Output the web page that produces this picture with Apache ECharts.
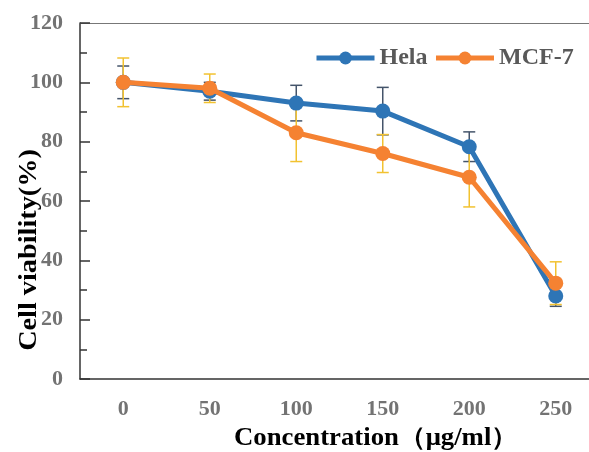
<!DOCTYPE html>
<html>
<head>
<meta charset="utf-8">
<script src="https://cdn.jsdelivr.net/npm/echarts@6/dist/echarts.min.js"></script>
<style>
html,body{margin:0;padding:0;background:#fff;}
#chart{width:589px;height:452px;}
</style>
</head>
<body>
<div id="chart"></div>
<script>
const categories = ['0', '50', '100', '150', '200', '250'];
const helaValues = [100, 97, 93, 90.3, 78.3, 28];
const helaErrors = [5.5, 3, 6, 8, 5, 3.5];
const mcfValues = [100, 98, 83, 76, 68, 32.3];
const mcfErrors = [8.2, 4.8, 9.7, 6.4, 10, 7.2];
const yTicks = [0, 20, 40, 60, 80, 100, 120];

const serif = '"Liberation Serif", "Times New Roman", serif';

function errData(vals, errs) {
  return vals.map((v, i) => [i, v - errs[i], v + errs[i]]);
}
function errRender(color) {
  return function (params, api) {
    const lo = api.coord([api.value(0), api.value(1)]);
    const hi = api.coord([api.value(0), api.value(2)]);
    const hw = 6;
    const st = { stroke: color, lineWidth: 1.5 };
    return {
      type: 'group',
      children: [
        { type: 'line', shape: { x1: lo[0], y1: lo[1], x2: hi[0], y2: hi[1] }, style: st },
        { type: 'line', shape: { x1: lo[0] - hw, y1: lo[1], x2: lo[0] + hw, y2: lo[1] }, style: st },
        { type: 'line', shape: { x1: hi[0] - hw, y1: hi[1], x2: hi[0] + hw, y2: hi[1] }, style: st }
      ]
    };
  };
}

const chart = echarts.init(document.getElementById('chart'), null, { renderer: 'canvas' });
chart.setOption({
  animation: false,
  backgroundColor: '#fff',
  grid: { left: 80, top: 23, width: 519, height: 356, containLabel: false, outerBoundsMode: 'none' },
  legend: {
    left: 314, top: 46, padding: 0,
    itemWidth: 58, itemHeight: 16, itemGap: 6,
    lineStyle: { width: 5 },
    textStyle: { fontFamily: serif, fontWeight: 'bold', fontSize: 24, color: '#595959' },
    data: ['Hela', 'MCF-7']
  },
  xAxis: [
    {
      type: 'category', data: categories, position: 'bottom', boundaryGap: true,
      axisLine: { lineStyle: { color: '#333', width: 1.5 } },
      axisTick: { inside: true, length: 10, lineStyle: { color: '#333', width: 1.5 } },
      axisLabel: { fontFamily: serif, fontWeight: 'bold', fontSize: 22, color: '#737373', margin: 19 },
      splitLine: { show: false }
    },
    {
      type: 'category', data: categories, position: 'bottom', boundaryGap: true,
      axisLine: { show: false },
      axisTick: { inside: true, length: 6, alignWithLabel: true, lineStyle: { color: '#333', width: 1.5 } },
      axisLabel: { show: false },
      splitLine: { show: false }
    },
    {
      type: 'category', data: categories, position: 'top',
      axisLine: { lineStyle: { color: '#777', width: 1.2 } },
      axisTick: { show: false }, axisLabel: { show: false }, splitLine: { show: false }
    }
  ],
  yAxis: {
    type: 'value', min: yTicks[0], max: yTicks[yTicks.length - 1], interval: 20,
    axisLine: { show: true, lineStyle: { color: '#333', width: 1.5 } },
    axisTick: { show: true, inside: true, length: 10, lineStyle: { color: '#333', width: 1.5 } },
    minorTick: { show: true, splitNumber: 2, length: 7, lineStyle: { color: '#333', width: 1.5 } },
    axisLabel: { fontFamily: serif, fontWeight: 'bold', fontSize: 22, color: '#737373', margin: 17 },
    splitLine: { show: false }
  },
  graphic: [
    {
      type: 'text', x: 30, y: 250, rotation: Math.PI / 2, scaleX: 1.13,
      style: { text: 'Cell viability(%)', font: 'bold 25px ' + serif, fill: '#000', align: 'center', verticalAlign: 'middle' }
    },
    {
      type: 'text', x: 376, y: 439, scaleX: 1.07,
      style: { text: 'Concentration（μg/ml）', font: 'bold 25px ' + serif, fill: '#000', align: 'center', verticalAlign: 'middle' }
    }
  ],
  series: [
    {
      type: 'custom', name: 'HelaErr', xAxisIndex: 0, z: 1,
      renderItem: errRender('#44546A'), data: errData(helaValues, helaErrors)
    },
    {
      type: 'custom', name: 'MCFErr', xAxisIndex: 0, z: 1,
      renderItem: errRender('#F2C230'), data: errData(mcfValues, mcfErrors)
    },
    {
      type: 'line', name: 'Hela', xAxisIndex: 0, z: 3, data: helaValues,
      symbol: 'circle', symbolSize: 15,
      lineStyle: { color: '#2E75B6', width: 5 },
      itemStyle: { color: '#2E75B6' }
    },
    {
      type: 'line', name: 'MCF-7', xAxisIndex: 0, z: 4, data: mcfValues,
      symbol: 'circle', symbolSize: 15,
      lineStyle: { color: '#F58232', width: 5 },
      itemStyle: { color: '#F58232' }
    }
  ]
});
</script>
</body>
</html>
